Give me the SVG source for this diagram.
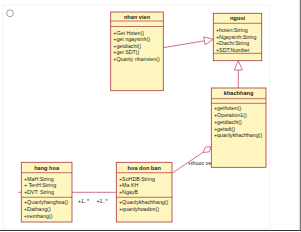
<svg xmlns="http://www.w3.org/2000/svg" width="301" height="232" viewBox="0 0 301 232">
<style>
.box{fill:#fff6bf;stroke:#a8343c;stroke-width:0.8}
.sep{stroke:#a8343c;stroke-width:0.7}
.t{font-family:"Liberation Sans",Arial,sans-serif;font-size:5.3px;fill:#222}
.b{font-family:"Liberation Sans",Arial,sans-serif;font-size:5.6px;font-weight:bold;fill:#222;text-anchor:middle}
.c{stroke:#c0506e;stroke-width:0.8;fill:none}
.h{stroke:#c0506e;stroke-width:0.8;fill:#fff}
</style>
<rect x="0" y="0" width="301" height="232" fill="#fff"/>
<rect x="3" y="5" width="267" height="224" fill="none" stroke="#ececec" stroke-width="0.6"/>
<line x1="0" y1="230.5" x2="301" y2="230.5" stroke="#333" stroke-width="1.2"/>
<line x1="300.3" y1="0" x2="300.3" y2="231" stroke="#555" stroke-width="1"/>
<circle cx="10" cy="13.3" r="3.4" fill="#fff" stroke="#777" stroke-width="0.7"/>
<g id="connectors">
<line class="c" x1="163.3" y1="47.7" x2="204.4" y2="40.8"/>
<polygon class="h" points="213.3,39.3 205.1,44.7 203.7,36.9"/>
<line class="c" x1="238.3" y1="88" x2="238.3" y2="70"/>
<polygon class="h" points="238.3,60.7 234.3,70 242.3,70"/>
<line class="c" x1="172" y1="173.3" x2="203" y2="152.3"/>
<polygon class="h" points="211.3,146.7 208.9,152 203,152.3 205.5,147"/>
<text class="t" x="188" y="164.5">+thuoc ve</text>
<line class="c" x1="72" y1="192.3" x2="116.3" y2="192.3"/>
<line class="c" x1="18.3" y1="192.3" x2="21.3" y2="192.3"/>
<text class="t" x="78" y="203">+1..*</text>
<text class="t" x="96.5" y="203">+1..*</text>
</g>
<g id="nhanvien">
<rect class="box" x="110.7" y="12" width="52.6" height="78.7"/>
<line class="sep" x1="110.7" y1="21" x2="163.3" y2="21"/>
<line class="sep" x1="110.7" y1="26.5" x2="163.3" y2="26.5"/>
<text class="b" x="137" y="19">nhan vien</text>
<text class="t" x="113.3" y="35">+Get Hoten()</text>
<text class="t" x="113.3" y="41.2">+get ngaysinh()</text>
<text class="t" x="113.3" y="47.6">+getdiachi()</text>
<text class="t" x="113.3" y="54.1">+get SDT()</text>
<text class="t" x="113.3" y="60.8">+Quanly nhanvien()</text>
</g>
<g id="nguoi">
<rect class="box" x="213.3" y="13.3" width="48.4" height="47.4"/>
<line class="sep" x1="213.3" y1="23.3" x2="261.7" y2="23.3"/>
<line class="sep" x1="213.3" y1="53.3" x2="261.7" y2="53.3"/>
<text class="b" x="237.5" y="20.3">nguoi</text>
<text class="t" x="216" y="31.8">+hoten:String</text>
<text class="t" x="216" y="38.5">+Ngaysinh:String</text>
<text class="t" x="216" y="45.1">+Diachi:String</text>
<text class="t" x="216" y="51.8">+SDT:Number</text>
</g>
<g id="khachhang">
<rect class="box" x="211.3" y="88" width="54.7" height="79.3"/>
<line class="sep" x1="211.3" y1="98.7" x2="266" y2="98.7"/>
<line class="sep" x1="211.3" y1="103.3" x2="266" y2="103.3"/>
<text class="b" x="238.6" y="95.2">khachhang</text>
<text class="t" x="214" y="110.1">+gethoten()</text>
<text class="t" x="214" y="117.1">+Operation1()</text>
<text class="t" x="214" y="123.8">+getdiachi()</text>
<text class="t" x="214" y="130.5">+getsdt()</text>
<text class="t" x="214" y="137.1">+quanlykhachhang()</text>
</g>
<g id="hanghoa">
<rect class="box" x="21.3" y="162.3" width="50.7" height="59.7"/>
<line class="sep" x1="21.3" y1="172.7" x2="72" y2="172.7"/>
<line class="sep" x1="21.3" y1="197.3" x2="72" y2="197.3"/>
<text class="b" x="46.6" y="169.6">hang hoa</text>
<text class="t" x="24" y="180.5">+MaH:String</text>
<text class="t" x="24" y="186.8">+ TenH:String</text>
<text class="t" x="24" y="193.5">+DVT: String</text>
<text class="t" x="24" y="203.8">+Quanlyhanghoa()</text>
<text class="t" x="24" y="210.8">+Dathang()</text>
<text class="t" x="24" y="217.5">+xemhang()</text>
</g>
<g id="hoadonban">
<rect class="box" x="116.3" y="162.3" width="55.7" height="59.7"/>
<line class="sep" x1="116.3" y1="172.7" x2="172" y2="172.7"/>
<line class="sep" x1="116.3" y1="197.3" x2="172" y2="197.3"/>
<text class="b" x="144.2" y="169.6">hoa don ban</text>
<text class="t" x="119" y="180.5">+SoHDB:String</text>
<text class="t" x="119" y="186.8">+Ma KH</text>
<text class="t" x="119" y="193.5">+NgayB</text>
<text class="t" x="119" y="203.8">+Quanlykhachhang()</text>
<text class="t" x="119" y="210.8">+quanlyhoadon()</text>
</g>
</svg>
